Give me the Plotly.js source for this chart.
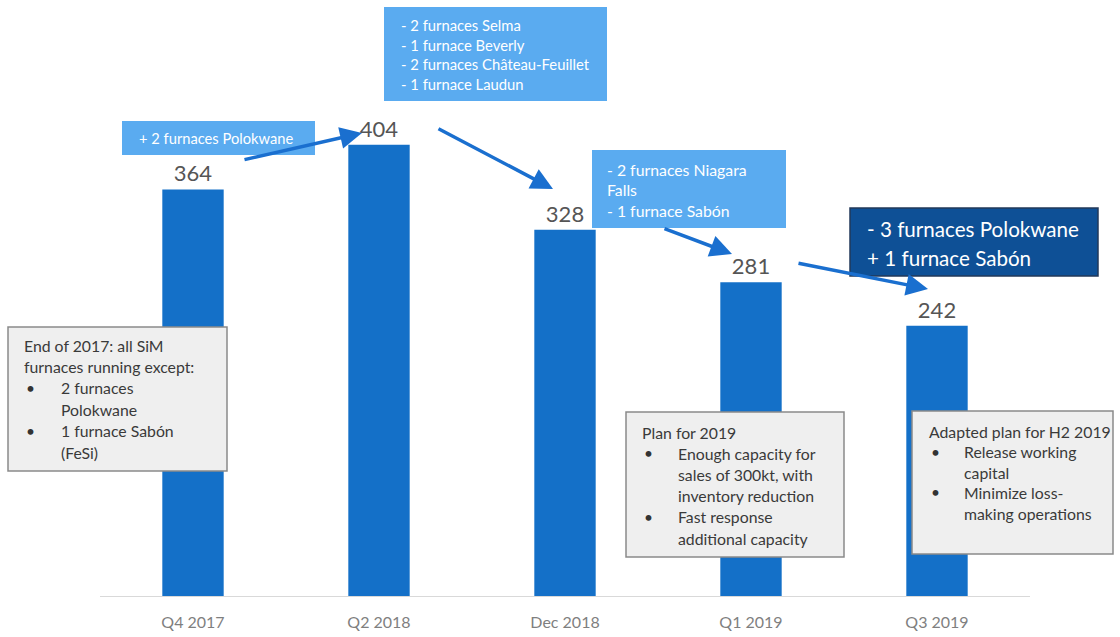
<!DOCTYPE html>
<html>
<head>
<meta charset="utf-8">
<script src="https://cdn.plot.ly/plotly-3.0.1.min.js"></script>
<style>html,body{margin:0;padding:0;background:#fff;}#chart{width:1120px;height:637px;}</style>
</head>
<body>
<div id="chart"></div>
<script>
// ---- data ----
const categories = ["Q4 2017", "Q2 2018", "Dec 2018", "Q1 2019", "Q3 2019"];
const capacity = [364, 404, 328, 281, 242];

const note1 = ["+ 2 furnaces Polokwane"];
const note2 = ["- 2 furnaces Selma", "- 1 furnace Beverly", "- 2 furnaces Château-Feuillet", "- 1 furnace Laudun"];
const note3 = ["- 2 furnaces Niagara", "Falls", "- 1 furnace Sabón"];
const note4 = ["- 3 furnaces Polokwane", "+ 1 furnace Sabón"];
const box1Lines = [["", "End of 2017: all SiM"], ["", "furnaces running except:"], ["•", "2 furnaces"], ["", "Polokwane"], ["•", "1 furnace Sabón"], ["", "(FeSi)"]];
const box2Lines = [["", "Plan for 2019"], ["•", "Enough capacity for"], ["", "sales of 300kt, with"], ["", "inventory reduction"], ["•", "Fast response"], ["", "additional capacity"]];
const box3Lines = [["", "Adapted plan for H2 2019"], ["•", "Release working"], ["", "capital"], ["•", "Minimize loss-"], ["", "making operations"]];

// ---- geometry helpers (pixel -> paper) ----
const W = 1120, H = 637;
const M = {l: 100, r: 90, t: 4, b: 41};
const PW = W - M.l - M.r, PH = H - M.t - M.b;
const BASE = H - M.b;
const fx = X => (X - M.l) / PW;
const fy = Y => (BASE - Y) / PH;

const FONT = "Lato, 'Open Sans', sans-serif";
const BAR = "#1470c8";
const LIGHT = "#5aabf0";
const DARK = "#0e5096";

const shapes = [];
const annotations = [];

function rect(x0, y0, x1, y1, fill, line, lw) {
  shapes.push({type: "rect", xref: "paper", yref: "paper", x0: fx(x0), x1: fx(x1), y0: fy(y1), y1: fy(y0),
    fillcolor: fill, line: {color: line || fill, width: lw || 0}, layer: "above"});
}
function txt(x, y, s, size, color) {
  annotations.push({xref: "paper", yref: "paper", x: fx(x), y: fy(y), xanchor: "left", yanchor: "middle",
    text: s, showarrow: false, font: {family: FONT, size: size, color: color}});
}
function arrow(x0, y0, x1, y1) {
  annotations.push({xref: "paper", yref: "paper", x: fx(x1), y: fy(y1), axref: "pixel", ayref: "pixel",
    ax: x0 - x1, ay: y0 - y1, text: "", showarrow: true, arrowhead: 2, arrowsize: 1.25, arrowwidth: 3.5,
    arrowcolor: "#1a6fcf", standoff: 0});
}

// arrows first
arrow(243, 160, 362, 133);
arrow(437, 128, 553, 189);
arrow(663, 228, 732, 254);
arrow(797, 263, 928, 289);

// light blue callouts
rect(122, 121, 315, 155, LIGHT);
note1.forEach((s, i) => txt(137, 138, s, 14.7, "#ffffff"));
rect(384, 7, 607, 101, LIGHT);
note2.forEach((s, i) => txt(399, 25 + i * 19.5, s, 14.8, "#ffffff"));
rect(592, 150, 786, 228, LIGHT);
note3.forEach((s, i) => txt(605, 169 + i * 20.5, s, 15.8, "#ffffff"));
rect(850, 208, 1098, 276, DARK, "#22385a", 1.5);
note4.forEach((s, i) => txt(865, 229 + i * 29, s, 20.6, "#ffffff"));

// gray boxes
function grayBox(x0, y0, x1, y1, lines, tx, bx, ix, ty, dy) {
  rect(x0, y0, x1, y1, "#efefef", "#8a8a8a", 1.5);
  lines.forEach((ln, i) => {
    const y = ty + i * dy;
    if (ln[0]) txt(bx, y, ln[0], 15.5, "#333333");
    const indent = (ln[0] || (i > 0 && lines.slice(0, i).some(l => l[0]))) ? ix : tx;
    txt(indent, y, ln[1], 15.8, "#3a3a3a");
  });
}
grayBox(8, 327, 227, 471, box1Lines, 22, 24, 59, 345, 21.4);
grayBox(626, 412, 844, 557, box2Lines, 640, 642, 676, 432, 21.2);
grayBox(912, 411, 1113, 554, box3Lines, 927, 929, 962, 431, 20.5);

const trace = {
  type: "bar",
  x: categories,
  y: capacity,
  marker: {color: BAR},
  width: 0.33,
  text: capacity.map(String),
  textposition: "outside",
  textfont: {family: FONT, size: 22, color: "#555555"},
  cliponaxis: false,
  hoverinfo: "skip"
};

const layout = {
  width: W, height: H,
  margin: M,
  paper_bgcolor: "#ffffff",
  plot_bgcolor: "#ffffff",
  showlegend: false,
  bargap: 0.67,
  xaxis: {
    type: "category",
    range: [-0.5, 4.5],
    showline: true, linecolor: "#d9d9d9", linewidth: 1,
    showgrid: false, zeroline: false, ticks: "",
    tickfont: {family: FONT, size: 16, color: "#7f7f7f"},
    ticklabelstandoff: 12
  },
  yaxis: {range: [0, 530], visible: false, showgrid: false, zeroline: false},
  shapes: shapes,
  annotations: annotations
};

Plotly.newPlot("chart", [trace], layout, {displayModeBar: false, staticPlot: true});
</script>
</body>
</html>
